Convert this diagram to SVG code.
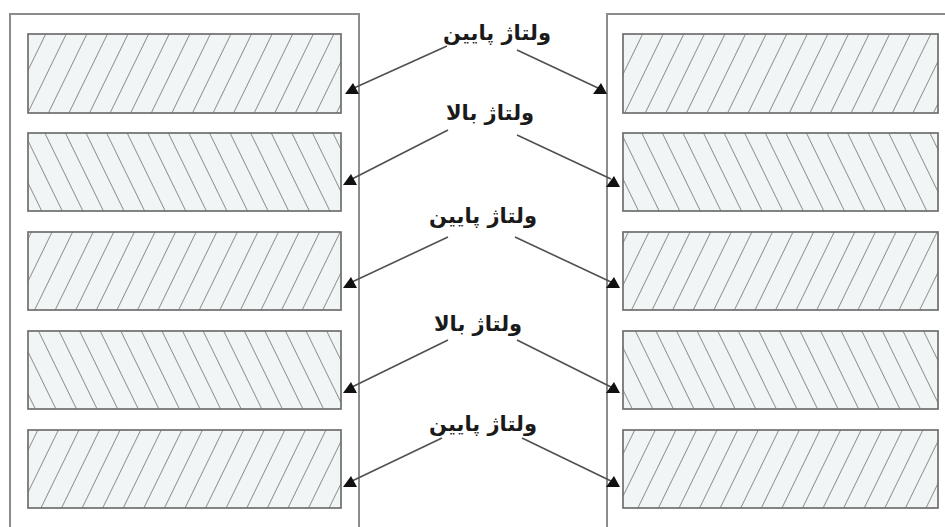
<svg xmlns="http://www.w3.org/2000/svg" width="945" height="527" viewBox="0 0 945 527">
  <style>
    .frame { fill: none; stroke: #8c8c8c; stroke-width: 2; }
    .cellA { fill: url(#hatchF); stroke: #6e6e6e; stroke-width: 1.7; }
    .cellB { fill: url(#hatchB); stroke: #6e6e6e; stroke-width: 1.7; }
    .lbl { font-family: "DejaVu Sans", "Noto Sans", sans-serif; font-weight: bold; font-size: 21px; fill: #1a1a1a; text-anchor: middle; direction: rtl; }
    .conn { stroke: #505050; stroke-width: 1.6; fill: none; }
    .head { fill: #111; }
  </style>
  <defs>
    <pattern id="hatchF" patternUnits="userSpaceOnUse" width="18.5" height="18.5" patternTransform="rotate(26)">
      <rect width="18.5" height="18.5" fill="#f2f5f5"/>
      <line x1="0" y1="0" x2="0" y2="18.5" stroke="#5e5e5e" stroke-width="1.3"/>
    </pattern>
    <pattern id="hatchB" patternUnits="userSpaceOnUse" width="18.5" height="18.5" patternTransform="rotate(-26)">
      <rect width="18.5" height="18.5" fill="#f2f5f5"/>
      <line x1="0" y1="0" x2="0" y2="18.5" stroke="#5e5e5e" stroke-width="1.3"/>
    </pattern>
    <polygon id="tri" class="head" points="-7,5 7,5 1,-6"/>
  </defs>
  <rect width="945" height="527" fill="#ffffff"/>

  <g id="left-frame">
    <path class="frame" d="M10,528 V14 H359 V528"/>
  </g>
  <g id="right-frame">
    <path class="frame" d="M607,528 V14 H946"/>
  </g>

  <g id="left-plate-1"><rect class="cellA" x="28" y="34" width="313" height="79"/></g>
  <g id="left-plate-2"><rect class="cellB" x="28" y="133" width="313" height="78"/></g>
  <g id="left-plate-3"><rect class="cellA" x="28" y="232" width="313" height="78"/></g>
  <g id="left-plate-4"><rect class="cellB" x="28" y="331" width="313" height="78"/></g>
  <g id="left-plate-5"><rect class="cellA" x="28" y="430" width="313" height="78"/></g>

  <g id="right-plate-1"><rect class="cellA" x="623" y="34" width="315" height="79"/></g>
  <g id="right-plate-2"><rect class="cellB" x="623" y="133" width="315" height="78"/></g>
  <g id="right-plate-3"><rect class="cellA" x="623" y="232" width="315" height="78"/></g>
  <g id="right-plate-4"><rect class="cellB" x="623" y="331" width="315" height="78"/></g>
  <g id="right-plate-5"><rect class="cellA" x="623" y="430" width="315" height="78"/></g>

  <g id="label-1"><text class="lbl" x="497" y="40">ولتاژ پایین</text></g>
  <g id="label-2"><text class="lbl" x="490" y="120">ولتاژ بالا</text></g>
  <g id="label-3"><text class="lbl" x="483" y="223">ولتاژ پایین</text></g>
  <g id="label-4"><text class="lbl" x="478" y="331">ولتاژ بالا</text></g>
  <g id="label-5"><text class="lbl" x="483" y="431">ولتاژ پایین</text></g>

  <g id="connectors">
    <line class="conn" x1="447" y1="46" x2="354" y2="88"/>
    <line class="conn" x1="517" y1="50" x2="598" y2="88"/>
    <line class="conn" x1="448" y1="130" x2="352" y2="179"/>
    <line class="conn" x1="517" y1="135" x2="611" y2="179"/>
    <line class="conn" x1="448" y1="237" x2="352" y2="282"/>
    <line class="conn" x1="515" y1="237" x2="611" y2="282"/>
    <line class="conn" x1="448" y1="340" x2="352" y2="387"/>
    <line class="conn" x1="517" y1="340" x2="611" y2="387"/>
    <line class="conn" x1="442" y1="438" x2="352" y2="481"/>
    <line class="conn" x1="522" y1="438" x2="611" y2="481"/>
    <use href="#tri" x="352" y="89"/>
    <use href="#tri" x="600" y="89"/>
    <use href="#tri" x="350" y="180"/>
    <use href="#tri" x="613" y="182"/>
    <use href="#tri" x="350" y="283"/>
    <use href="#tri" x="613" y="283"/>
    <use href="#tri" x="350" y="388"/>
    <use href="#tri" x="613" y="388"/>
    <use href="#tri" x="350" y="482"/>
    <use href="#tri" x="613" y="482"/>
  </g>
</svg>
